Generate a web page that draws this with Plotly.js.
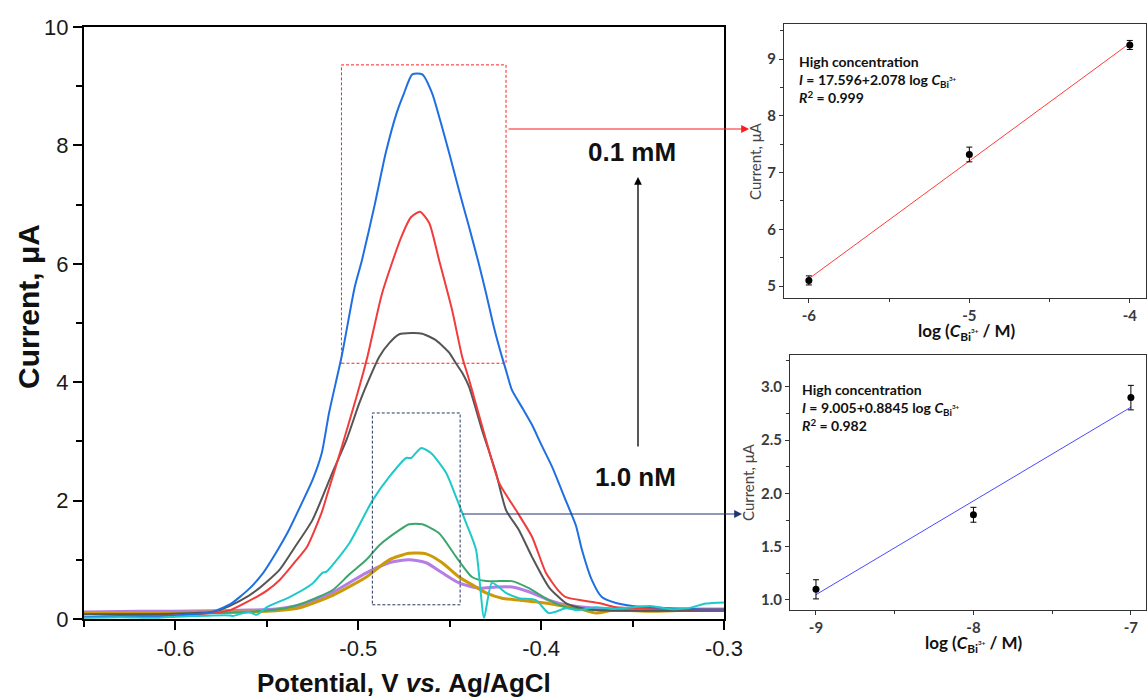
<!DOCTYPE html>
<html>
<head>
<meta charset="utf-8">
<script src="https://cdn.plot.ly/plotly-3.0.1.min.js"></script>
<style>html,body{margin:0;padding:0;background:#fff;}#chart{width:1147px;height:700px;}</style>
</head>
<body>
<div id="chart"></div>
<script>
// ---------- main DPV curves (potential V, current µA) ----------
const blueX = [-0.65,-0.63,-0.61,-0.6,-0.59,-0.58,-0.57,-0.56,-0.552,-0.545,-0.538,-0.531,-0.525,-0.52,-0.516,-0.509,-0.502,-0.498,-0.491,-0.485,-0.479,-0.475,-0.4705,-0.465,-0.4596,-0.455,-0.4503,-0.445,-0.4394,-0.4345,-0.4301,-0.426,-0.422,-0.4192,-0.416,-0.41,-0.405,-0.4,-0.394,-0.3865,-0.381,-0.3777,-0.3723,-0.3668,-0.359,-0.35,-0.34,-0.33,-0.32,-0.31,-0.3];
const blueY = [0.03,0.05,0.04,0.06,0.08,0.12,0.25,0.5,0.78,1.12,1.5,1.95,2.35,2.8,3.48,4.45,5.6,6.06,7.0,7.87,8.55,8.88,9.2,9.2,8.88,8.4,7.87,7.25,6.62,6.05,5.5,4.95,4.49,4.2,3.87,3.55,3.28,2.95,2.57,2.0,1.58,1.17,0.66,0.37,0.27,0.22,0.2,0.18,0.17,0.16,0.16];

const redX = [-0.65,-0.62,-0.6,-0.58,-0.57,-0.56,-0.55,-0.543,-0.535,-0.528,-0.52,-0.5174,-0.509,-0.501,-0.495,-0.487,-0.4765,-0.4711,-0.4662,-0.4612,-0.4558,-0.4487,-0.4432,-0.4394,-0.4301,-0.423,-0.4138,-0.405,-0.3974,-0.3903,-0.3865,-0.3685,-0.359,-0.345,-0.33,-0.31,-0.3];
const redY = [0.03,0.05,0.06,0.1,0.15,0.3,0.48,0.66,0.95,1.22,1.8,2.06,2.91,3.75,4.43,5.5,6.45,6.79,6.88,6.69,6.06,5.22,4.43,4.04,3.02,2.3,1.84,1.39,0.78,0.47,0.37,0.27,0.2,0.18,0.17,0.16,0.16];

const grayX = [-0.65,-0.62,-0.6,-0.58,-0.5758,-0.565,-0.555,-0.5431,-0.535,-0.5251,-0.5142,-0.5065,-0.4994,-0.494,-0.4885,-0.4831,-0.4776,-0.471,-0.465,-0.4576,-0.4503,-0.4466,-0.443,-0.4394,-0.4323,-0.4247,-0.4192,-0.4121,-0.405,-0.3958,-0.3865,-0.38,-0.37,-0.36,-0.34,-0.32,-0.3];
const grayY = [0.08,0.08,0.09,0.12,0.15,0.3,0.5,0.83,1.2,1.67,2.47,3.02,3.65,4.06,4.43,4.66,4.81,4.83,4.82,4.71,4.5,4.32,4.15,3.92,3.19,2.47,1.84,1.5,1.05,0.54,0.27,0.2,0.15,0.14,0.14,0.14,0.14];

const cyanX = [-0.65,-0.63,-0.61,-0.6,-0.59,-0.58,-0.57,-0.5687,-0.56,-0.5556,-0.55,-0.5376,-0.525,-0.5196,-0.5174,-0.5049,-0.4923,-0.4831,-0.4738,-0.4711,-0.4656,-0.4601,-0.452,-0.4465,-0.441,-0.4356,-0.4312,-0.4269,-0.4192,-0.4121,-0.4029,-0.3958,-0.3865,-0.38,-0.37,-0.36,-0.35,-0.34,-0.33,-0.32,-0.31,-0.3];
const cyanY = [0.02,0.03,0.02,0.04,0.05,0.06,0.06,0.05,0.12,0.07,0.2,0.37,0.6,0.78,0.8,1.28,2.0,2.4,2.72,2.72,2.89,2.8,2.47,2.06,1.62,1.17,0.02,0.61,0.44,0.35,0.32,0.1,0.18,0.15,0.2,0.17,0.2,0.22,0.17,0.18,0.26,0.28];

const greenX = [-0.65,-0.62,-0.6,-0.58,-0.56,-0.54,-0.53,-0.514,-0.505,-0.4956,-0.4883,-0.4776,-0.4722,-0.465,-0.4558,-0.4465,-0.4378,-0.4301,-0.423,-0.416,-0.4067,-0.3958,-0.3865,-0.37,-0.35,-0.33,-0.3];
const greenY = [0.08,0.08,0.09,0.1,0.12,0.18,0.27,0.49,0.75,1.0,1.25,1.5,1.6,1.6,1.45,1.05,0.71,0.64,0.64,0.64,0.52,0.32,0.2,0.15,0.14,0.14,0.14];

const goldX = [-0.65,-0.62,-0.6,-0.58,-0.56,-0.545,-0.532,-0.514,-0.4956,-0.4831,-0.4722,-0.4629,-0.4541,-0.4449,-0.4356,-0.4301,-0.4214,-0.4121,-0.4029,-0.392,-0.38,-0.37,-0.36,-0.34,-0.32,-0.3];
const goldY = [0.1,0.1,0.11,0.12,0.12,0.14,0.19,0.4,0.71,1.0,1.11,1.1,0.95,0.71,0.54,0.44,0.35,0.32,0.29,0.24,0.18,0.1,0.15,0.13,0.15,0.15];

const purpleX = [-0.65,-0.62,-0.6,-0.58,-0.56,-0.545,-0.53,-0.514,-0.4956,-0.4831,-0.4722,-0.4629,-0.4541,-0.4449,-0.434,-0.4247,-0.416,-0.4067,-0.3958,-0.3865,-0.37,-0.35,-0.32,-0.3];
const purpleY = [0.12,0.13,0.13,0.14,0.15,0.17,0.25,0.45,0.78,0.95,1.0,0.95,0.78,0.61,0.52,0.54,0.54,0.46,0.32,0.24,0.18,0.17,0.17,0.17];

// ---------- insets: calibration points ----------
const highLogC = [-6, -5, -4];
const highI = [5.1, 7.32, 9.25];
const highErr = [0.08, 0.13, 0.08];
const highFitX = [-6, -4];
const highFitY = [5.13, 9.28];

const lowLogC = [-9, -8, -7];
const lowI = [1.1, 1.8, 2.9];
const lowErr = [0.09, 0.07, 0.115];
const lowFitX = [-9, -7];
const lowFitY = [1.05, 2.81];

// ---------- tick labels ----------
const mainXTicks = [-0.6, -0.5, -0.4, -0.3];
const mainXTickText = ['-0.6', '-0.5', '-0.4', '-0.3'];
const mainYTicks = [0, 2, 4, 6, 8, 10];
const mainYTickText = ['0', '2', '4', '6', '8', '10'];
const highXTicks = [-6, -5, -4];
const highYTicks = [5, 6, 7, 8, 9];
const lowXTicks = [-9, -8, -7];
const lowYTicks = [1.0, 1.5, 2.0, 2.5, 3.0];
const lowYTickText = ['1.0', '1.5', '2.0', '2.5', '3.0'];

// ---------- helpers ----------
const W = 1147, H = 700;
const px = v => v / W;
const py = v => 1 - v / H;
const ARIAL = 'Liberation Sans, Arial, sans-serif';
const CAL = 'Lato, Carlito, Calibri, sans-serif';
const CBI = '<i>C</i><sub>Bi</sub><span style="font-size:9px"><sup>3+</sup></span>';

function curve(x, y, color, width) {
  return {x: x, y: y, type: 'scatter', mode: 'lines', xaxis: 'x', yaxis: 'y',
          line: {color: color, width: width, shape: 'spline', smoothing: 0.6}, hoverinfo: 'skip'};
}

const traces = [
  curve(purpleX, purpleY, '#b47ee6', 3),
  curve(goldX, goldY, '#cc9a06', 3),
  curve(greenX, greenY, '#3ca66c', 2),
  curve(grayX, grayY, '#555555', 2),
  curve(redX, redY, '#f23b3b', 2),
  curve(blueX, blueY, '#1f6fe3', 2),
  curve(cyanX, cyanY, '#1ec9c9', 2),
  {x: highFitX, y: highFitY, type: 'scatter', mode: 'lines', xaxis: 'x2', yaxis: 'y2',
   line: {color: '#ff3b3b', width: 1}},
  {x: highLogC, y: highI, type: 'scatter', mode: 'markers', xaxis: 'x2', yaxis: 'y2',
   marker: {color: '#000', size: 7},
   error_y: {type: 'data', array: highErr, visible: true, color: '#000', thickness: 1, width: 3}},
  {x: lowFitX, y: lowFitY, type: 'scatter', mode: 'lines', xaxis: 'x3', yaxis: 'y3',
   line: {color: '#4a4aff', width: 1}},
  {x: lowLogC, y: lowI, type: 'scatter', mode: 'markers', xaxis: 'x3', yaxis: 'y3',
   marker: {color: '#000', size: 7},
   error_y: {type: 'data', array: lowErr, visible: true, color: '#000', thickness: 1, width: 3}}
];

const mainAxisCommon = {showgrid: false, zeroline: false, showline: true, linecolor: '#000', linewidth: 2,
  mirror: true, ticks: 'outside', ticklen: 9, tickwidth: 2, tickcolor: '#000',
  tickfont: {family: ARIAL, size: 22, color: '#1a1a1a'}, fixedrange: true};

const insetCommon = {showgrid: false, zeroline: false, showline: true, linecolor: '#333', linewidth: 1,
  mirror: true, ticks: 'outside', ticklen: 4, tickwidth: 1, tickcolor: '#333',
  tickfont: {family: CAL, size: 15, color: '#3a3a3a', weight: 'bold'}, fixedrange: true};

const layout = {
  width: W, height: H, margin: {l: 0, r: 0, t: 0, b: 0}, showlegend: false,
  paper_bgcolor: '#fff', plot_bgcolor: 'rgba(0,0,0,0)',
  xaxis: Object.assign({}, mainAxisCommon, {domain: [px(84), px(724)], range: [-0.65, -0.3], anchor: 'y',
    tickmode: 'array', tickvals: mainXTicks, ticktext: mainXTickText,
    minor: {tickvals: [-0.65, -0.55, -0.45, -0.35], ticklen: 6, tickwidth: 2, tickcolor: '#000', ticks: 'outside'}}),
  yaxis: Object.assign({}, mainAxisCommon, {domain: [py(619), py(27)], range: [0, 10], anchor: 'x',
    tickmode: 'array', tickvals: mainYTicks, ticktext: mainYTickText,
    minor: {tickvals: [1, 3, 5, 7, 9], ticklen: 6, tickwidth: 2, tickcolor: '#000', ticks: 'outside'}}),
  xaxis2: Object.assign({}, insetCommon, {domain: [px(784), 0.999], range: [-6.155, -3.9], anchor: 'y2',
    tickmode: 'array', tickvals: highXTicks, ticktext: highXTicks.map(String),
    minor: {tickvals: [-5.5, -4.5], ticklen: 3, tickcolor: '#333', ticks: 'outside'}}),
  yaxis2: Object.assign({}, insetCommon, {domain: [py(298), py(24)], range: [4.79, 9.62], anchor: 'x2',
    tickmode: 'array', tickvals: highYTicks, ticktext: highYTicks.map(String),
    minor: {tickvals: [5.5, 6.5, 7.5, 8.5, 9.5], ticklen: 3, tickcolor: '#333', ticks: 'outside'}}),
  xaxis3: Object.assign({}, insetCommon, {domain: [px(790), 0.999], range: [-9.165, -6.905], anchor: 'y3',
    tickmode: 'array', tickvals: lowXTicks, ticktext: lowXTicks.map(String),
    minor: {tickvals: [-8.5, -7.5], ticklen: 3, tickcolor: '#333', ticks: 'outside'}}),
  yaxis3: Object.assign({}, insetCommon, {domain: [py(610), py(355)], range: [0.906, 3.30], anchor: 'x3',
    tickmode: 'array', tickvals: lowYTicks, ticktext: lowYTickText,
    minor: {tickvals: [1.25, 1.75, 2.25, 2.75, 3.25], ticklen: 3, tickcolor: '#333', ticks: 'outside'}}),
  shapes: [
    {type: 'rect', xref: 'x', yref: 'y', x0: -0.5092, x1: -0.4192, y0: 4.32, y1: 9.36,
     line: {color: '#ff2020', width: 1, dash: '3px,2px'}},
    {type: 'rect', xref: 'x', yref: 'y', x0: -0.4923, x1: -0.4443, y0: 0.24, y1: 3.48,
     line: {color: '#27365f', width: 1, dash: '3px,2px'}}
  ],
  annotations: [
    // connector arrows
    {xref: 'paper', yref: 'paper', axref: 'paper', ayref: 'paper', x: px(749), y: py(129), ax: px(507), ay: py(129),
     text: '', showarrow: true, arrowhead: 2, arrowsize: 1.3, arrowwidth: 1.2, arrowcolor: '#ff1a1a'},
    {xref: 'paper', yref: 'paper', axref: 'paper', ayref: 'paper', x: px(742), y: py(514), ax: px(461), ay: py(514),
     text: '', showarrow: true, arrowhead: 2, arrowsize: 1.3, arrowwidth: 1.2, arrowcolor: '#1f3670'},
    {xref: 'paper', yref: 'paper', axref: 'paper', ayref: 'paper', x: px(638), y: py(177), ax: px(638), ay: py(448),
     text: '', showarrow: true, arrowhead: 2, arrowsize: 1.2, arrowwidth: 1.3, arrowcolor: '#000'},
    // concentration labels
    {xref: 'paper', yref: 'paper', x: px(632), y: py(152), text: '<b>0.1 mM</b>', showarrow: false,
     font: {family: ARIAL, size: 26, color: '#111'}, xanchor: 'center', yanchor: 'middle'},
    {xref: 'paper', yref: 'paper', x: px(635), y: py(477), text: '<b>1.0 nM</b>', showarrow: false,
     font: {family: ARIAL, size: 26, color: '#111'}, xanchor: 'center', yanchor: 'middle'},
    // main axis titles
    {xref: 'paper', yref: 'paper', x: px(404), y: py(683), text: '<b>Potential, V <i>vs.</i> Ag/AgCl</b>', showarrow: false,
     font: {family: ARIAL, size: 26, color: '#111'}, xanchor: 'center', yanchor: 'middle'},
    {xref: 'paper', yref: 'paper', x: px(28), y: py(307), text: '<b>Current, μA</b>', showarrow: false, textangle: -90,
     font: {family: ARIAL, size: 30, color: '#111'}, xanchor: 'center', yanchor: 'middle'},
    // inset titles
    {xref: 'paper', yref: 'paper', x: px(755), y: py(161), text: 'Current, μA', showarrow: false, textangle: -90,
     font: {family: CAL, size: 15, color: '#444'}, xanchor: 'center', yanchor: 'middle'},
    {xref: 'paper', yref: 'paper', x: px(748), y: py(482), text: 'Current, μA', showarrow: false, textangle: -90,
     font: {family: CAL, size: 15, color: '#444'}, xanchor: 'center', yanchor: 'middle'},
    {xref: 'paper', yref: 'paper', x: px(967), y: py(332), text: '<b>log (' + CBI + ' / M)</b>', showarrow: false,
     font: {family: CAL, size: 17, color: '#111'}, xanchor: 'center', yanchor: 'middle'},
    {xref: 'paper', yref: 'paper', x: px(974), y: py(644), text: '<b>log (' + CBI + ' / M)</b>', showarrow: false,
     font: {family: CAL, size: 17, color: '#111'}, xanchor: 'center', yanchor: 'middle'},
    // inset equations
    {xref: 'paper', yref: 'paper', x: px(797), y: py(79), align: 'left', showarrow: false, xanchor: 'left', yanchor: 'middle',
     text: '<b>High concentration<br><i>I</i> = 17.596+2.078 log ' + CBI + '<br><i>R</i><sup>2</sup> = 0.999</b>',
     font: {family: CAL, size: 14, color: '#111'}},
    {xref: 'paper', yref: 'paper', x: px(800), y: py(407), align: 'left', showarrow: false, xanchor: 'left', yanchor: 'middle',
     text: '<b>High concentration<br><i>I</i> = 9.005+0.8845 log ' + CBI + '<br><i>R</i><sup>2</sup> = 0.982</b>',
     font: {family: CAL, size: 14, color: '#111'}}
  ]
};

Plotly.newPlot('chart', traces, layout, {staticPlot: true, displayModeBar: false});
</script>
</body>
</html>
